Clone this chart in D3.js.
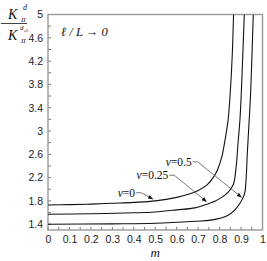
<!DOCTYPE html>
<html>
<head>
<meta charset="utf-8">
<script src="https://cdn.jsdelivr.net/npm/d3@7"></script>
<style>
  body { margin: 0; background: #fff; }
  svg { display: block; }
  .tick text { font-family: "Liberation Sans", Arial, sans-serif; font-size: 10.5px; fill: #222; }
  .serif { font-family: "Liberation Serif", "Times New Roman", serif; fill: #111; }
</style>
</head>
<body>
<svg id="chart" width="267" height="261"></svg>
<script>
// data (m, K ratio)
const M0 = [0, 0.1, 0.2, 0.3, 0.4, 0.5, 0.6, 0.65, 0.7, 0.74, 0.77, 0.79, 0.81, 0.825, 0.84, 0.852, 0.86, 0.865];
const K0 = [1.73, 1.735, 1.745, 1.76, 1.775, 1.8, 1.86, 1.91, 1.98, 2.07, 2.2, 2.33, 2.55, 2.84, 3.2, 3.8, 4.4, 5.0];
const M25 = [0, 0.2, 0.4, 0.5, 0.6, 0.685, 0.73, 0.78, 0.81, 0.84, 0.864, 0.876, 0.887, 0.895, 0.905, 0.915];
const K25 = [1.57, 1.58, 1.595, 1.61, 1.645, 1.68, 1.73, 1.8, 1.86, 1.95, 2.08, 2.35, 2.84, 3.2, 4.0, 5.0];
const M50 = [0, 0.3, 0.5, 0.685, 0.76, 0.84, 0.87, 0.895, 0.91, 0.918, 0.924, 0.929, 0.935, 0.944, 0.95, 0.957];
const K50 = [1.4, 1.405, 1.415, 1.45, 1.47, 1.555, 1.64, 1.76, 1.86, 1.95, 2.2, 2.6, 3.0, 3.6, 4.2, 5.0];

const X_TICKS = [0, 0.1, 0.2, 0.3, 0.4, 0.5, 0.6, 0.7, 0.8, 0.9, 1];
const Y_TICKS = [1.4, 1.8, 2.2, 2.6, 3, 3.4, 3.8, 4.2, 4.6, 5];

// labels: text, text end (m,k), arrow tip (m,k)
const LABELS = [
  { nu: '0', end: [0.406, 1.94], tip: [0.49, 1.83] },
  { nu: '0.25', end: [0.561, 2.24], tip: [0.74, 1.785] },
  { nu: '0.5', end: [0.67, 2.47], tip: [0.903, 1.86] }
];

var svg = d3.select('#chart');
var padL = 48, padR = 262.5, padT = 14.5, padB = 230;

var x = d3.scaleLinear().domain([0, 1]).range([padL, padR]);
var y = d3.scaleLinear().domain([1.3, 5]).range([padB, padT]);

var defs = svg.append('defs');
defs.append('clipPath').attr('id', 'clip')
  .append('rect').attr('x', padL).attr('y', padT)
  .attr('width', padR - padL).attr('height', padB - padT);

defs.append('marker')
  .attr('id', 'arr').attr('viewBox', '0 0 10 10')
  .attr('refX', 10).attr('refY', 5)
  .attr('markerWidth', 5).attr('markerHeight', 5)
  .attr('markerUnits', 'userSpaceOnUse')
  .attr('orient', 'auto')
  .append('path').attr('d', 'M0,1 L10,5 L0,9 Z').attr('fill', '#111');

// axes, ticks inside
var xMinor = d3.range(0, 1.0001, 0.05);
var yMinor = d3.range(1.4, 5.0001, 0.2);

var xAxis = svg.append('g').attr('transform', 'translate(0,' + padB + ')')
  .call(d3.axisBottom(x).tickValues(X_TICKS).tickSize(0).tickPadding(6)
    .tickFormat(function(d) { return d3.format('~g')(d); }));
xAxis.select('.domain').remove();

var yAxis = svg.append('g').attr('transform', 'translate(' + padL + ',0)')
  .call(d3.axisLeft(y).tickValues(Y_TICKS).tickSize(0).tickPadding(5)
    .tickFormat(function(d) { return d3.format('~g')(d); }));
yAxis.select('.domain').remove();

svg.append('g').selectAll('line').data(xMinor).enter().append('line')
  .attr('x1', function(d) { return x(d); }).attr('x2', function(d) { return x(d); })
  .attr('y1', padB).attr('y2', padB - 3)
  .attr('stroke', '#777').attr('stroke-width', 1);

svg.append('g').selectAll('line').data(yMinor).enter().append('line')
  .attr('x1', padL).attr('x2', padL + 3)
  .attr('y1', function(d) { return y(d); }).attr('y2', function(d) { return y(d); })
  .attr('stroke', '#777').attr('stroke-width', 1);

svg.append('rect')
  .attr('x', padL).attr('y', padT)
  .attr('width', padR - padL).attr('height', padB - padT)
  .attr('fill', 'none').attr('stroke', '#999').attr('stroke-width', 1.4);

// curves
var line = d3.line()
  .x(function(d) { return x(d[0]); })
  .y(function(d) { return y(d[1]); })
  .curve(d3.curveCatmullRom.alpha(0.5));

[[M0, K0], [M25, K25], [M50, K50]].forEach(function(s) {
  svg.append('path')
    .datum(d3.zip(s[0], s[1]))
    .attr('clip-path', 'url(#clip)')
    .attr('d', line)
    .attr('fill', 'none')
    .attr('stroke', '#111')
    .attr('stroke-width', 1.1);
});

// curve labels with leaders
LABELS.forEach(function(l) {
  var ex = x(l.end[0]), ey = y(l.end[1]);
  var t = svg.append('text').attr('class', 'serif')
    .attr('x', ex).attr('y', ey + 4)
    .attr('text-anchor', 'end')
    .style('font-size', '11.5px');
  t.append('tspan').style('font-style', 'italic').text('v');
  t.append('tspan').text('=' + l.nu);
  svg.append('path')
    .attr('d', 'M' + (ex + 1) + ',' + ey + ' L' + (ex + 6) + ',' + ey +
      ' L' + x(l.tip[0]) + ',' + y(l.tip[1]))
    .attr('fill', 'none').attr('stroke', '#555').attr('stroke-width', 0.8)
    .attr('marker-end', 'url(#arr)');
});

// y label: fraction
var lab = svg.append('g').attr('class', 'serif').style('font-style', 'italic');
lab.append('text').attr('x', 8).attr('y', 19).style('font-size', '14px').text('K');
lab.append('text').attr('x', 23).attr('y', 10).style('font-size', '8px').text('d');
lab.append('text').attr('x', 21).attr('y', 22).style('font-size', '7px').text('II');
lab.append('line').attr('x1', 1).attr('x2', 27).attr('y1', 23.5).attr('y2', 23.5)
  .attr('stroke', '#111').attr('stroke-width', 0.8);
lab.append('text').attr('x', 8).attr('y', 40).style('font-size', '14px').text('K');
lab.append('text').attr('x', 20).attr('y', 30).style('font-size', '7px').text('d');
lab.append('text').attr('x', 24).attr('y', 32).style('font-size', '5px').text('cl.');
lab.append('text').attr('x', 21).attr('y', 43).style('font-size', '7px').text('II');

svg.append('text').attr('class', 'serif')
  .attr('x', 61).attr('y', 36)
  .style('font-size', '12.5px').style('font-style', 'italic')
  .text('ℓ / L → 0');

svg.append('text').attr('class', 'serif')
  .attr('x', x(0.5)).attr('y', 257)
  .attr('text-anchor', 'middle')
  .style('font-size', '13px').style('font-style', 'italic')
  .text('m');
</script>
</body>
</html>
